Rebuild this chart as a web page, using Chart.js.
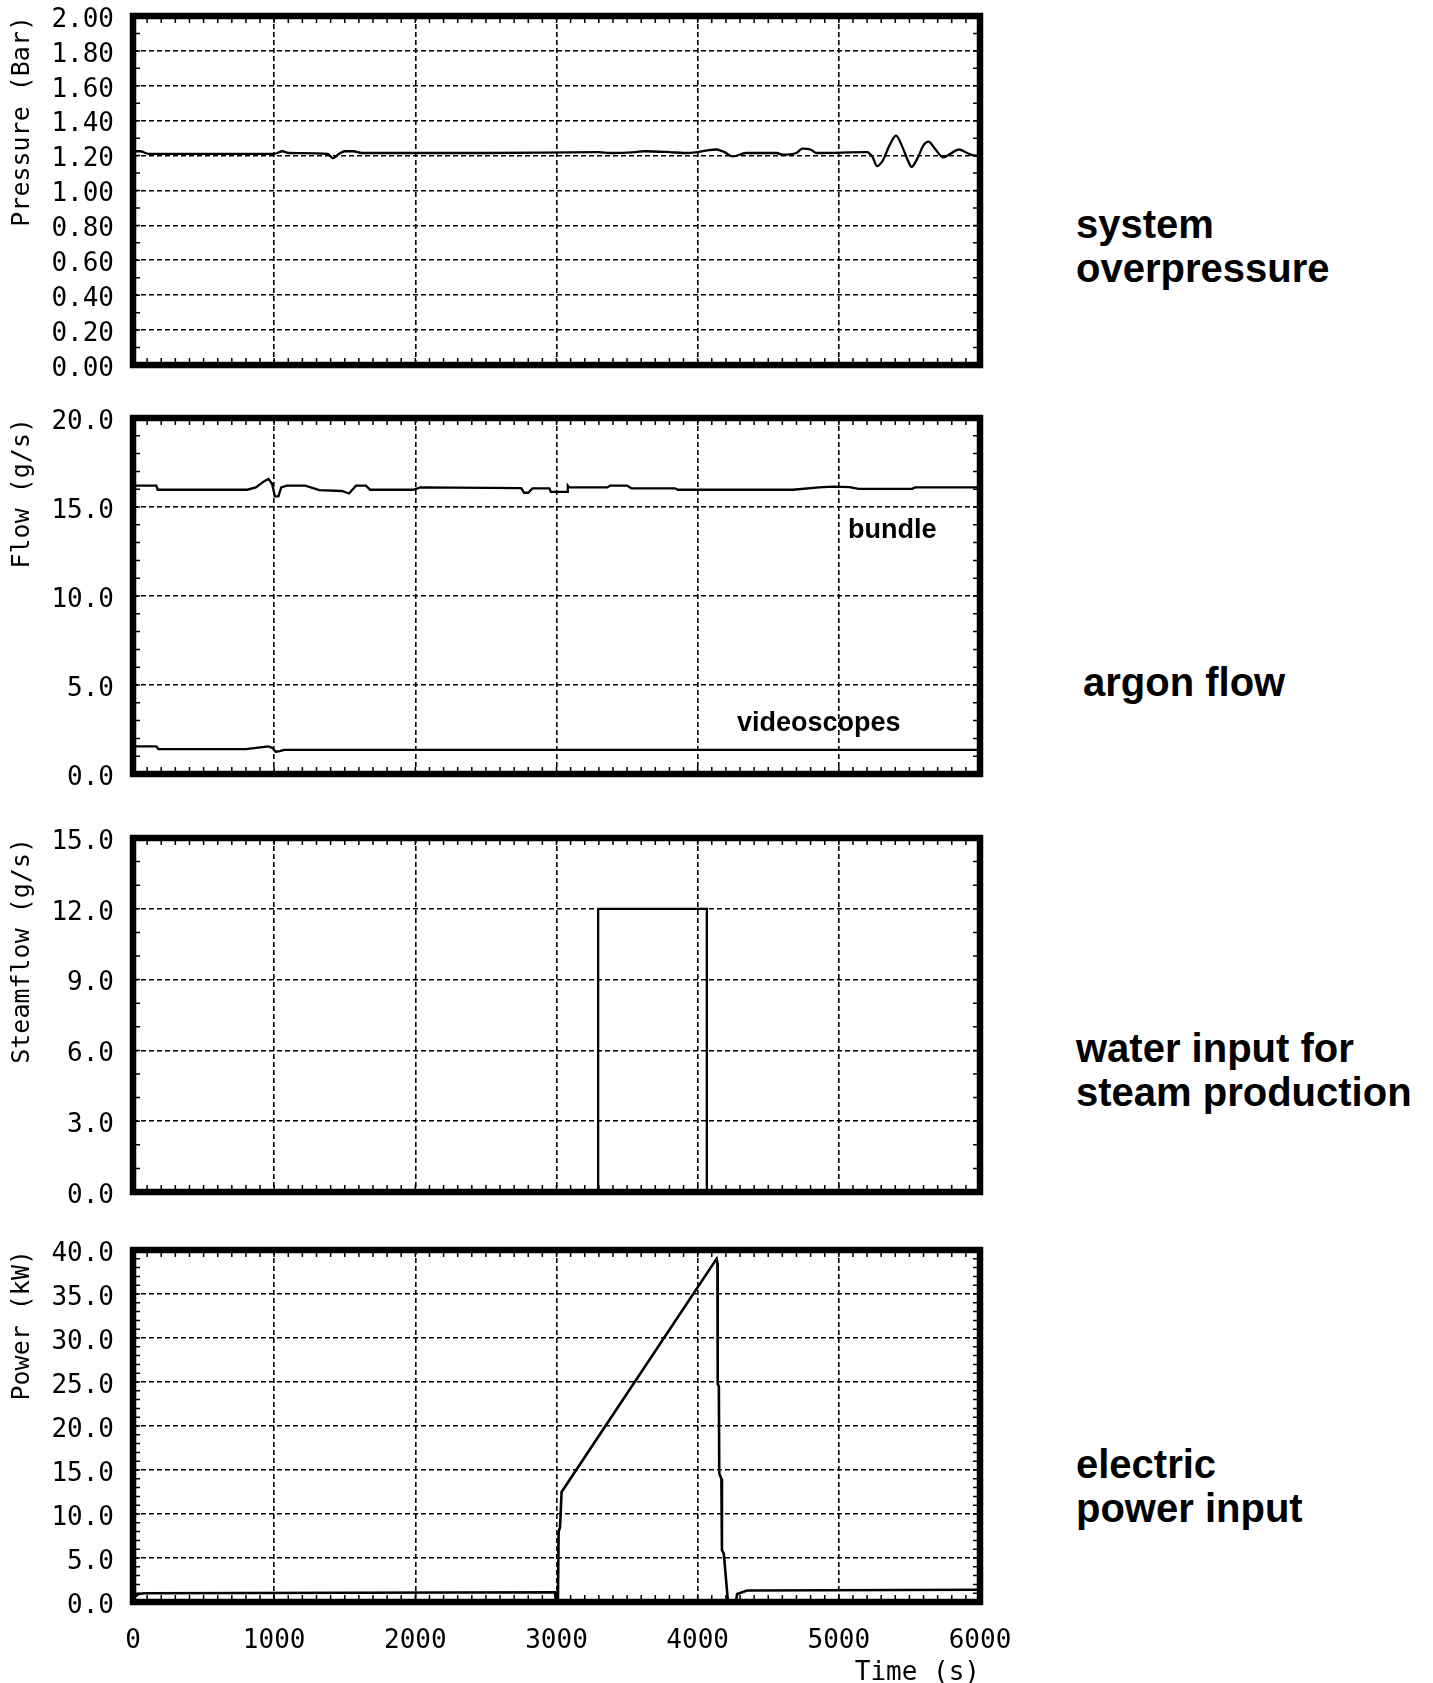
<!DOCTYPE html>
<html>
<head>
<meta charset="utf-8">
<title>Test run overview</title>
<script src="https://cdn.jsdelivr.net/npm/chart.js@4.4.1/dist/chart.umd.min.js"></script>
<style>
  html, body { margin: 0; padding: 0; background: #fff; }
  body { position: relative; width: 1433px; height: 1683px; overflow: hidden; }
  canvas { position: absolute; left: 0; }
  .side { position: absolute; left: 1076px; font: bold 40px/44px "Liberation Sans", Arial, sans-serif; color: #000; white-space: nowrap; }
  .tag { position: absolute; font: bold 27px/27px "Liberation Sans", Arial, sans-serif; color: #000; white-space: nowrap; }
</style>
</head>
<body>
<canvas id="pressureChart" width="1040" height="380" style="top:0px"></canvas>
<canvas id="argonChart" width="1040" height="387" style="top:402px"></canvas>
<canvas id="steamChart" width="1040" height="385" style="top:822px"></canvas>
<canvas id="powerChart" width="1040" height="449" style="top:1234px"></canvas>

<div class="side" style="top:202px">system<br>overpressure</div>
<div class="side" style="top:660px; left:1083px">argon flow</div>
<div class="side" style="top:1026px">water input for<br>steam production</div>
<div class="side" style="top:1442px">electric<br>power input</div>

<div class="tag" style="left:848px; top:516px">bundle</div>
<div class="tag" style="left:737px; top:709px">videoscopes</div>

<script>
// Time axis (s)
const timeMin = 0;
const timeMax = 6000;
const timeStep = 1000;

// System overpressure (bar)
const pressureTime = [0, 50, 110, 1000, 1060, 1100, 1380, 1415, 1460, 1500,
    1560, 1620, 2500, 3300, 3380, 3560, 3620, 3800, 3900, 4000,
    4070, 4130, 4190, 4250, 4340, 4560, 4600, 4700, 4740, 4800,
    4840, 5200, 5240, 5270, 5310, 5360, 5405, 5450, 5490, 5515,
    5560, 5600, 5635, 5680, 5740, 5790, 5850, 5910, 5960, 6000];
const pressureBar = [1.225, 1.225, 1.21, 1.21, 1.225, 1.215, 1.21, 1.185, 1.21, 1.225,
    1.225, 1.215, 1.215, 1.22, 1.215, 1.22, 1.225, 1.22, 1.215, 1.22,
    1.23, 1.235, 1.22, 1.195, 1.215, 1.215, 1.205, 1.215, 1.24, 1.235,
    1.215, 1.22, 1.19, 1.14, 1.17, 1.26, 1.315, 1.25, 1.17, 1.135,
    1.19, 1.26, 1.28, 1.24, 1.19, 1.21, 1.235, 1.215, 1.20, 1.20];

// Argon flow through the bundle (g/s)
const bundleTime = [0, 165, 175, 810, 870, 930, 960, 985, 1005, 1030,
    1050, 1090, 1220, 1320, 1480, 1530, 1580, 1650, 1680, 1985,
    2035, 2750, 2770, 2800, 2830, 2950, 2960, 3075, 3080, 3090,
    3360, 3380, 3500, 3530, 3840, 3860, 4675, 4860, 4960, 5075,
    5140, 5520, 5540, 6000];
const bundleFlow = [16.2, 16.2, 15.97, 15.97, 16.1, 16.45, 16.57, 16.3, 15.6, 15.6,
    16.1, 16.2, 16.2, 15.95, 15.9, 15.76, 16.2, 16.2, 15.97, 15.97,
    16.1, 16.06, 15.8, 15.8, 16.05, 16.05, 15.85, 15.85, 16.2, 16.1,
    16.1, 16.2, 16.2, 16.05, 16.05, 15.97, 15.97, 16.1, 16.15, 16.12,
    16.02, 16.02, 16.1, 16.1];

// Argon flow to the videoscopes (g/s)
const videoTime = [0, 165, 180, 800, 900, 960, 990, 1010, 1040, 1070, 6000];
const videoFlow = [1.55, 1.55, 1.4, 1.4, 1.5, 1.55, 1.45, 1.25, 1.28, 1.35, 1.35];

// Steam flow (g/s)
const steamTime = [0, 3295, 3295, 4065, 4065, 6000];
const steamFlow = [0, 0, 12, 12, 0, 0];

// Electric power (kW)
const powerTime = [0, 40, 80, 2990, 2995, 3010, 3015, 3025, 3036, 4134,
    4140, 4142, 4150, 4153, 4168, 4172, 4185, 4215, 4270, 4280,
    4350, 6000];
const powerKW = [0.5, 0.9, 1.0, 1.1, 0.0, 0.0, 8.0, 8.5, 12.5, 39.0,
    38.5, 24.8, 24.5, 14.6, 14.0, 5.9, 5.5, 0.0, 0.0, 0.9,
    1.3, 1.4];

Chart.defaults.font.family = "'DejaVu Sans Mono', 'Liberation Mono', monospace";
Chart.defaults.color = '#000';

// Heavy frame round the plot area plus small inner ticks on every side
function framePlugin(minorY) {
    return {
        id: 'frame',
        afterDatasetsDraw(chart) {
            const { ctx, chartArea: a } = chart;
            const x = chart.scales.x;
            const y = chart.scales.y;
            ctx.save();
            ctx.strokeStyle = '#000';
            ctx.lineWidth = 1.5;
            ctx.beginPath();
            for (let t = x.min; t <= x.max; t += 100) {
                const px = x.getPixelForValue(t);
                ctx.moveTo(px, a.bottom); ctx.lineTo(px, a.bottom - 7);
                ctx.moveTo(px, a.top); ctx.lineTo(px, a.top + 7);
            }
            for (let v = y.min; v <= y.max + 1e-9; v += minorY) {
                const py = y.getPixelForValue(v);
                ctx.moveTo(a.left, py); ctx.lineTo(a.left + 7, py);
                ctx.moveTo(a.right, py); ctx.lineTo(a.right - 7, py);
            }
            ctx.stroke();
            ctx.lineWidth = 6.5;
            ctx.strokeRect(a.left, a.top, a.right - a.left, a.bottom - a.top);
            ctx.restore();
        }
    };
}

function makePanel(id, cfg) {
    const ctx = document.getElementById(id).getContext('2d');
    const datasets = cfg.series.map(s => ({
        data: s.time.map((t, i) => ({ x: t, y: s.values[i] })),
        borderColor: '#000',
        borderWidth: s.width || 2.3,
        pointRadius: 0,
        fill: false,
        tension: s.smooth ? 0.4 : 0,
        cubicInterpolationMode: s.smooth ? 'monotone' : 'default'
    }));

    return new Chart(ctx, {
        type: 'line',
        data: { datasets },
        options: {
            responsive: false,
            animation: false,
            devicePixelRatio: 1,
            layout: { padding: { left: 0, right: 60, top: 16, bottom: 0 } },
            plugins: { legend: { display: false }, tooltip: { enabled: false } },
            scales: {
                x: {
                    type: 'linear',
                    min: timeMin,
                    max: timeMax,
                    ticks: {
                        display: cfg.showTime,
                        stepSize: timeStep,
                        maxRotation: 0,
                        autoSkip: false,
                        padding: 24,
                        font: { size: 26 },
                        callback: v => String(v)
                    },
                    grid: { color: '#000', lineWidth: 1.6, drawTicks: false },
                    border: { display: false, dash: [5, 3] },
                    title: {
                        display: cfg.showTime,
                        text: 'Time (s)',
                        align: 'end',
                        font: { size: 26, lineHeight: 1 },
                        padding: { top: 0, bottom: -3 }
                    },
                    afterFit: scale => { scale.height = cfg.showTime ? 81 : 15; }
                },
                y: {
                    min: 0,
                    max: cfg.max,
                    ticks: {
                        stepSize: cfg.step,
                        padding: 19,
                        labelOffset: 4,
                        font: { size: 26 },
                        callback: v => v.toFixed(cfg.decimals)
                    },
                    grid: { color: '#000', lineWidth: 1.6, drawTicks: false },
                    border: { display: false, dash: [5, 3] },
                    title: {
                        display: true,
                        text: cfg.title,
                        align: 'end',
                        font: { size: 25 },
                        padding: { top: 7, bottom: 0 }
                    },
                    afterFit: scale => {
                        scale.width = 133;
                        // keep the label overhang from pushing the plot area inwards
                        scale.paddingTop = 0;
                        scale.paddingBottom = 0;
                    }
                }
            }
        },
        plugins: [framePlugin(cfg.minor)]
    });
}

makePanel('pressureChart', {
    title: 'Pressure (Bar)', max: 2, step: 0.2, minor: 0.1, decimals: 2, showTime: false,
    series: [{ time: pressureTime, values: pressureBar, smooth: true }]
});

makePanel('argonChart', {
    title: 'Flow (g/s)', max: 20, step: 5, minor: 1, decimals: 1, showTime: false,
    series: [
        { time: bundleTime, values: bundleFlow },
        { time: videoTime, values: videoFlow }
    ]
});

makePanel('steamChart', {
    title: 'Steamflow (g/s)', max: 15, step: 3, minor: 1, decimals: 1, showTime: false,
    series: [{ time: steamTime, values: steamFlow }]
});

makePanel('powerChart', {
    title: 'Power (kW)', max: 40, step: 5, minor: 1, decimals: 1, showTime: true,
    series: [{ time: powerTime, values: powerKW, width: 2.6 }]
});
</script>
</body>
</html>
